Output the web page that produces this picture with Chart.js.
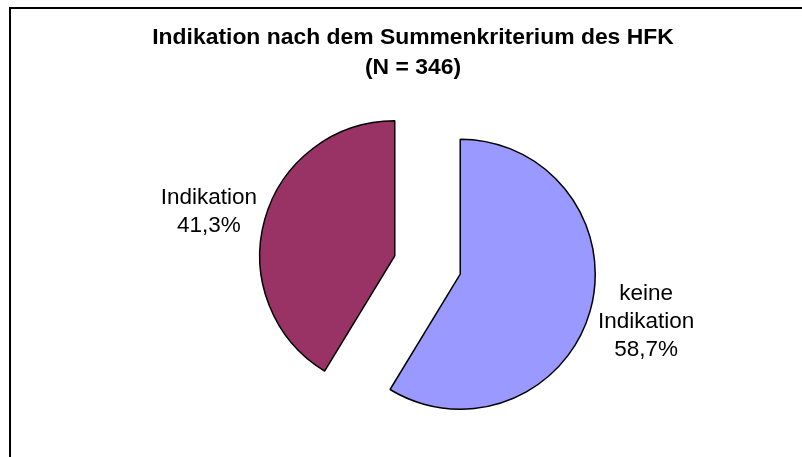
<!DOCTYPE html>
<html>
<head>
<meta charset="utf-8">
<script src="https://cdn.jsdelivr.net/npm/chart.js@4"></script>
<style>
  html, body { margin: 0; padding: 0; background: #fff; }
  #wrap { width: 802px; height: 457px; }
</style>
</head>
<body>
<div id="wrap"><canvas id="c" width="802" height="457"></canvas></div>
<script>
// ---- data ----
const titleLines = ['Indikation nach dem Summenkriterium des HFK', '(N = 346)'];
const categories = ['keine Indikation', 'Indikation'];
const labelLines = [['keine', 'Indikation'], ['Indikation']];
const values = [58.7, 41.3];
const colors = ['#9999FF', '#993366'];

const FONT = '"Liberation Sans", Arial, Helvetica, sans-serif';
const PIE_R = 135;       // visible radius of each slice
const EXPLODE = 34;      // visible explosion distance (px)

const framePlugin = {
  id: 'frame',
  beforeDraw(chart) {
    const ctx = chart.ctx;
    ctx.save();
    ctx.fillStyle = '#fff';
    ctx.fillRect(0, 0, chart.width, chart.height);
    ctx.strokeStyle = '#000';
    ctx.lineWidth = 2;
    ctx.strokeRect(10, 8, 1000, 1000);
    ctx.fillStyle = '#000';
    ctx.font = 'bold 22.9px ' + FONT;
    ctx.textAlign = 'center';
    ctx.textBaseline = 'alphabetic';
    titleLines.forEach((t, k) => ctx.fillText(t, 413, 44 + k * 30));
    ctx.restore();
  }
};

// Chart.js enlarges exploded arcs by offset*(1-sin(circ)) and trims their outer angle;
// compensate so every slice keeps the same radius and straight radial edges
const radiusFixPlugin = {
  id: 'radiusFix',
  beforeDatasetsDraw(chart) {
    const meta = chart.getDatasetMeta(0);
    meta.data.forEach(arc => {
      if (arc._fixed) return;
      const circ = arc.circumference;
      const fix = 1 - Math.sin(Math.min(Math.PI, circ));
      const radiusOffset = EXPLODE * fix;
      arc.outerRadius = PIE_R - radiusOffset;
      const d = radiusOffset / (Math.PI * PIE_R) / 2;
      arc.startAngle -= d;
      arc.endAngle += d;
      arc._fixed = true;
    });
  }
};

const labelPlugin = {
  id: 'sliceLabels',
  afterDatasetsDraw(chart) {
    const ctx = chart.ctx;
    const meta = chart.getDatasetMeta(0);
    ctx.save();
    ctx.font = '22.5px ' + FONT;
    ctx.fillStyle = '#000';
    ctx.textAlign = 'center';
    ctx.textBaseline = 'middle';
    const lh = 28;
    meta.data.forEach((arc, i) => {
      const mid = (arc.startAngle + arc.endAngle) / 2;
      const R = PIE_R + EXPLODE + 58;
      const cx = arc.x + Math.cos(mid) * R;
      const cy = arc.y + Math.sin(mid) * R * 0.9 + 2;
      const lines = labelLines[i].concat([values[i].toFixed(1).replace('.', ',') + '%']);
      const y0 = cy - (lines.length - 1) * lh / 2;
      lines.forEach((t, k) => ctx.fillText(t, cx, y0 + k * lh));
    });
    ctx.restore();
  }
};

new Chart(document.getElementById('c'), {
  type: 'pie',
  data: {
    labels: categories,
    datasets: [{
      data: values,
      backgroundColor: colors,
      borderColor: '#000',
      borderWidth: 1.5,
      offset: EXPLODE * 4,
      hoverOffset: EXPLODE * 4
    }]
  },
  options: {
    responsive: false,
    animation: false,
    events: [],
    radius: PIE_R,
    layout: { padding: { left: 200, right: 147, top: 120, bottom: 47 } },
    plugins: {
      legend: { display: false },
      tooltip: { enabled: false },
      title: { display: false }
    }
  },
  plugins: [framePlugin, radiusFixPlugin, labelPlugin]
});
</script>
</body>
</html>
